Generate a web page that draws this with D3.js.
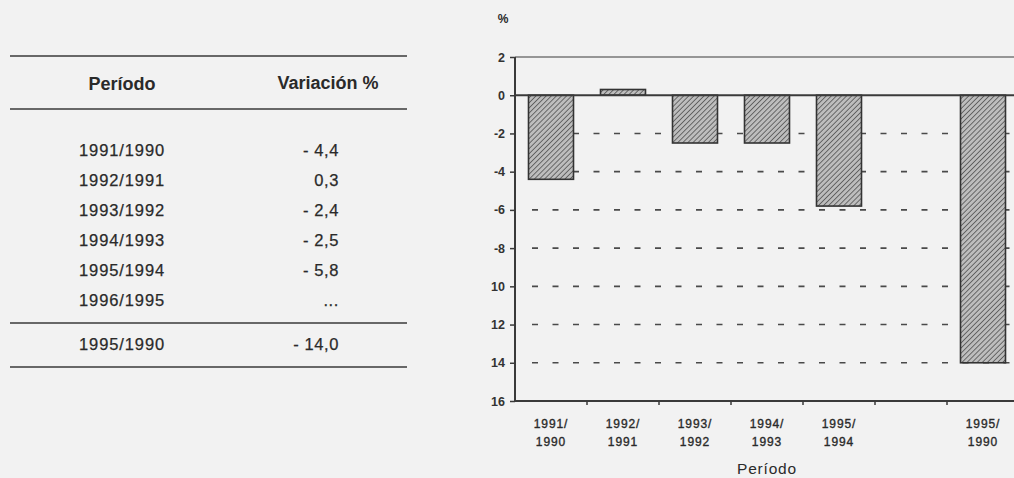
<!DOCTYPE html>
<html>
<head>
<meta charset="utf-8">
<script src="https://cdn.jsdelivr.net/npm/d3@7"></script>
<style>
  html, body { margin: 0; padding: 0; background: #f2f2f2; }
  svg { display: block; }
</style>
</head>
<body>
<svg id="chart" width="1014" height="478" font-family="Liberation Sans, Arial, Helvetica, sans-serif" fill="#2a2a2a"></svg>
<script>
// ---- data ----
const tablePeriods = ["1991/1990", "1992/1991", "1993/1992", "1994/1993", "1995/1994", "1996/1995"];
const tableValues  = ["- 4,4", "0,3", "- 2,4", "- 2,5", "- 5,8", "..."];
const totalPeriod  = "1995/1990";
const totalValue   = "- 14,0";

const chartCategories = ["1991/1990", "1992/1991", "1993/1992", "1994/1993", "1995/1994", "", "1995/1990"];
const chartLabelTop   = ["1991/", "1992/", "1993/", "1994/", "1995/", "", "1995/"];
const chartLabelBot   = ["1990", "1991", "1992", "1993", "1994", "", "1990"];
const chartValues     = [-4.4, 0.3, -2.5, -2.5, -5.8, null, -14.0];
const yTickValues     = [2, 0, -2, -4, -6, -8, -10, -12, -14, -16];
const yTickLabels     = ["2", "0", "-2", "-4", "-6", "-8", "10", "12", "14", "16"];
const gridValues      = [-2, -4, -6, -8, -10, -12, -14];

(function () {
const svg = d3.select("#chart");
const ink = "#2a2a2a";

// ---- table ----
const tbl = svg.append("g");
const ruleY = [56, 109, 323, 367];
tbl.selectAll("line.rule").data(ruleY).enter().append("line")
  .attr("x1", 10).attr("x2", 407)
  .attr("y1", d => d).attr("y2", d => d)
  .attr("stroke", "#3a3a3a").attr("stroke-width", 1.5);

tbl.append("text").attr("x", 122).attr("y", 90).attr("text-anchor", "middle")
  .attr("font-size", 18).attr("font-weight", "bold").text("Período");
tbl.append("text").attr("x", 328).attr("y", 89).attr("text-anchor", "middle")
  .attr("font-size", 18).attr("font-weight", "bold").text("Variación %");

const rowY = d3.scaleLinear().domain([0, 1]).range([156, 186]);
function rowText(sel) {
  return sel.attr("font-size", 16.5).attr("stroke", ink).attr("stroke-width", 0.25);
}
rowText(tbl.selectAll("text.per").data(tablePeriods).enter().append("text")
  .attr("x", 79).attr("y", (d, i) => rowY(i))
  .attr("letter-spacing", 0.9).text(d => d));
rowText(tbl.selectAll("text.val").data(tableValues).enter().append("text")
  .attr("x", 339).attr("y", (d, i) => rowY(i)).attr("text-anchor", "end")
  .attr("letter-spacing", 0.6).text(d => d));
rowText(tbl.append("text").attr("x", 79).attr("y", 350)
  .attr("letter-spacing", 0.9).text(totalPeriod));
rowText(tbl.append("text").attr("x", 339).attr("y", 350).attr("text-anchor", "end")
  .attr("letter-spacing", 0.6).text(totalValue));

// ---- bar chart ----
const defs = svg.append("defs");
const pat = defs.append("pattern").attr("id", "hatch")
  .attr("width", 3.6).attr("height", 3.6)
  .attr("patternUnits", "userSpaceOnUse")
  .attr("patternTransform", "rotate(45)");
pat.append("rect").attr("width", 3.6).attr("height", 3.6).attr("fill", "#bdbdbd");
pat.append("line").attr("x1", 0).attr("y1", 0).attr("x2", 0).attr("y2", 3.6)
  .attr("stroke", "#4a4a4a").attr("stroke-width", 1.5);

const pLeft = 515, pRight = 1019, pTop = 57, pBottom = 401;
const y = d3.scaleLinear().domain([2, -16]).range([pTop, pBottom]);
const pad = 0.375;
const x = d3.scaleBand().domain(chartCategories.map((c, i) => i))
  .range([pLeft, pRight]).paddingInner(pad).paddingOuter(pad / 2);
const step = x.step();

// dashed gridlines
svg.append("g").selectAll("line").data(gridValues).enter().append("line")
  .attr("x1", pLeft + 17).attr("x2", 1014)
  .attr("y1", d => y(d)).attr("y2", d => y(d))
  .attr("stroke", "#4a4a4a").attr("stroke-width", 1.6)
  .attr("stroke-dasharray", "6,14.5");

// top line at 2
svg.append("line").attr("x1", pLeft).attr("x2", 1014)
  .attr("y1", y(2)).attr("y2", y(2))
  .attr("stroke", "#777").attr("stroke-width", 1.3);

// bars
const barData = chartValues.map((v, i) => ({ i, v })).filter(d => d.v !== null);
svg.append("g").selectAll("rect").data(barData).enter().append("rect")
  .attr("x", d => x(d.i))
  .attr("width", x.bandwidth())
  .attr("y", d => y(Math.max(0, d.v)))
  .attr("height", d => Math.abs(y(d.v) - y(0)))
  .attr("fill", "url(#hatch)")
  .attr("stroke", "#333").attr("stroke-width", 1.6);

// zero line
svg.append("line").attr("x1", pLeft).attr("x2", 1014)
  .attr("y1", y(0)).attr("y2", y(0))
  .attr("stroke", "#3a3a3a").attr("stroke-width", 2);

// y axis
const yAxis = d3.axisLeft(y).tickValues(yTickValues)
  .tickFormat((d, i) => yTickLabels[i]).tickSize(5).tickPadding(5);
const ya = svg.append("g").attr("transform", `translate(${pLeft},0)`).call(yAxis);
ya.select(".domain").attr("stroke", "#3a3a3a").attr("stroke-width", 2)
  .attr("d", `M0,${pTop}V${pBottom}`);
ya.selectAll(".tick line").attr("stroke", "#3a3a3a").attr("stroke-width", 1.5);
ya.selectAll(".tick text").attr("font-size", 12.5).attr("font-weight", "bold")
  .attr("font-family", "Liberation Sans, Arial, sans-serif").attr("fill", "#333");

// x axis (slot boundaries)
const boundaries = d3.range(chartCategories.length + 1).map(k => pLeft + k * step);
svg.append("line").attr("x1", pLeft).attr("x2", 1014)
  .attr("y1", pBottom).attr("y2", pBottom)
  .attr("stroke", "#3a3a3a").attr("stroke-width", 2);
svg.append("g").selectAll("line").data(boundaries.slice(1).filter(b => b < 1014)).enter().append("line")
  .attr("x1", d => d).attr("x2", d => d)
  .attr("y1", pBottom).attr("y2", pBottom + 4)
  .attr("stroke", "#3a3a3a").attr("stroke-width", 1.5);

const xl = svg.append("g");
xl.selectAll("text.t").data(chartLabelTop).enter().append("text")
  .attr("x", (d, i) => x(i) + x.bandwidth() / 2).attr("y", 428)
  .attr("text-anchor", "middle").attr("font-size", 12).attr("letter-spacing", 0.9)
  .attr("stroke", ink).attr("stroke-width", 0.35).text(d => d);
xl.selectAll("text.b").data(chartLabelBot).enter().append("text")
  .attr("x", (d, i) => x(i) + x.bandwidth() / 2).attr("y", 446)
  .attr("text-anchor", "middle").attr("font-size", 12).attr("letter-spacing", 0.9)
  .attr("stroke", ink).attr("stroke-width", 0.35).text(d => d);

svg.append("text").attr("x", 767).attr("y", 474).attr("text-anchor", "middle")
  .attr("font-size", 15.5).attr("letter-spacing", 0.8).text("Período");

svg.append("text").attr("x", 503).attr("y", 23).attr("text-anchor", "middle")
  .attr("font-size", 12).attr("font-weight", "bold").text("%");
})();
</script>
</body>
</html>
